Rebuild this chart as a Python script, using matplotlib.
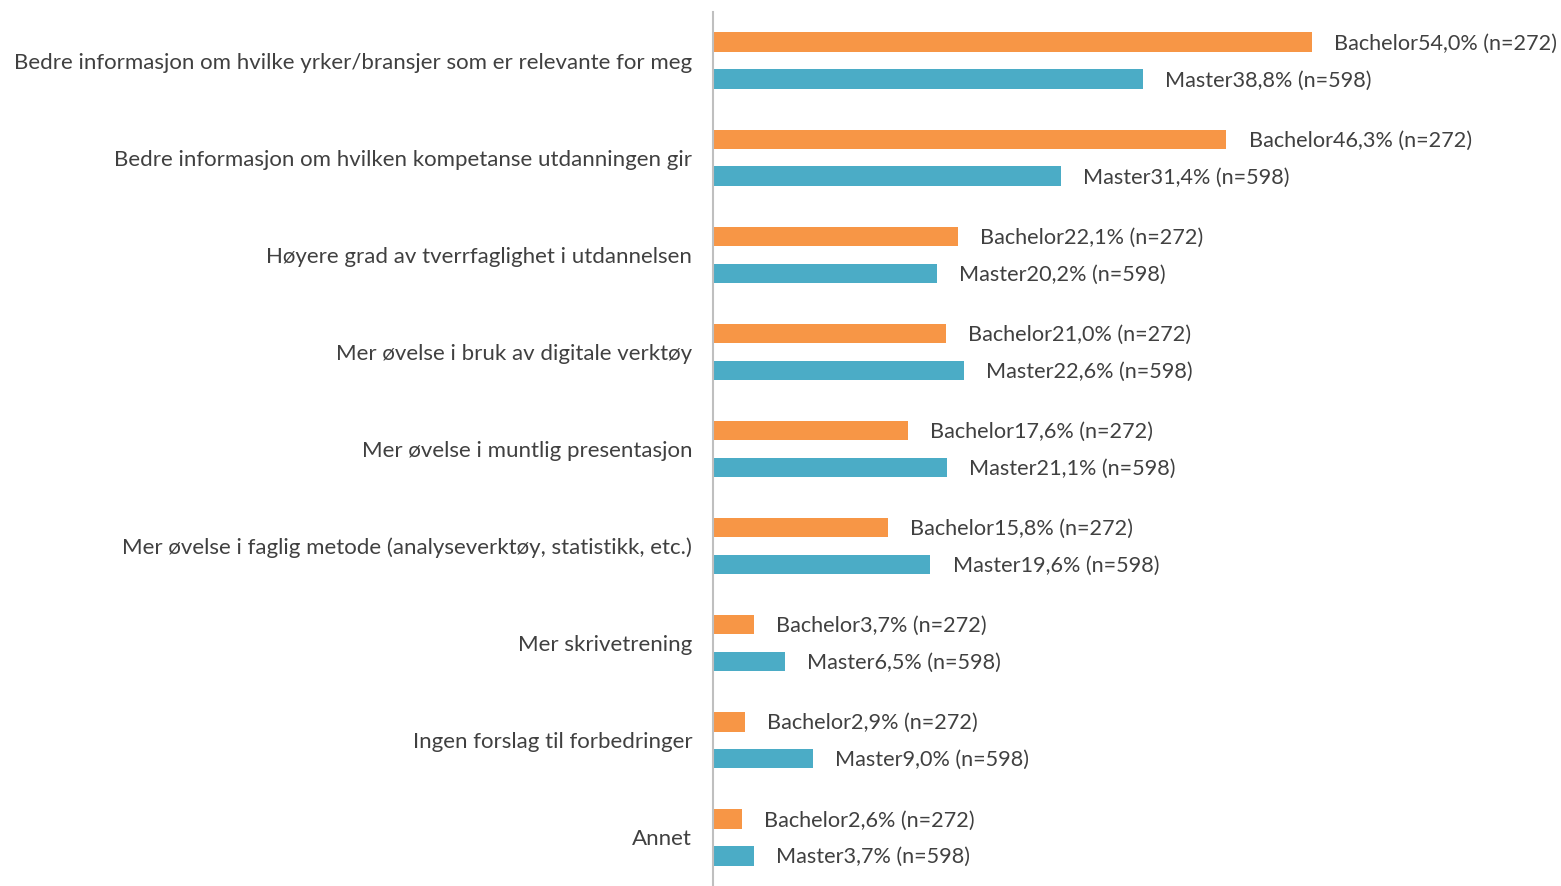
import matplotlib
matplotlib.use("Agg")
import matplotlib.pyplot as plt
import numpy as np

categories = [
    "Bedre informasjon om hvilke yrker/bransjer som er relevante for meg",
    "Bedre informasjon om hvilken kompetanse utdanningen gir",
    "Høyere grad av tverrfaglighet i utdannelsen",
    "Mer øvelse i bruk av digitale verktøy",
    "Mer øvelse i muntlig presentasjon",
    "Mer øvelse i faglig metode (analyseverktøy, statistikk, etc.)",
    "Mer skrivetrening",
    "Ingen forslag til forbedringer",
    "Annet",
]
bachelor = [54.0, 46.3, 22.1, 21.0, 17.6, 15.8, 3.7, 2.9, 2.6]
master = [38.8, 31.4, 20.2, 22.6, 21.1, 19.6, 6.5, 9.0, 3.7]
n_bachelor = 272
n_master = 598

plt.rcParams['font.family'] = ['Lato', 'DejaVu Sans']
txt_color = '#404040'
orange = '#F79646'
blue = '#4BACC6'

W, H = 1561, 886
fig = plt.figure(figsize=(W / 100, H / 100), dpi=100)
ax = fig.add_axes([713 / W, 0, 1 - 713 / W, (H - 12) / H])

y = np.arange(len(categories))
off = 0.19
h = 0.2
ax.barh(y - off, bachelor, height=h, color=orange)
ax.barh(y + off, master, height=h, color=blue)

for i in range(len(categories)):
    ax.text(bachelor[i] + 2.0, y[i] - off + 0.015, f"Bachelor{bachelor[i]:.1f}% (n={n_bachelor})".replace('.', ','),
            va='center', ha='left', fontsize=15.6, color=txt_color)
    ax.text(master[i] + 2.0, y[i] + off + 0.015, f"Master{master[i]:.1f}% (n={n_master})".replace('.', ','),
            va='center', ha='left', fontsize=15.6, color=txt_color)

ax.set_xlim(0, (W - 713) / 11.09)
ax.set_ylim(len(categories) - 0.5, -0.5)
ax.set_yticks(y)
ax.set_yticklabels(categories, fontsize=16.0, color=txt_color)
ax.tick_params(axis='y', length=0, pad=15)
ax.set_xticks([])
for s in ['top', 'right', 'bottom']:
    ax.spines[s].set_visible(False)
ax.spines['left'].set_color('#BFBFBF')
ax.spines['left'].set_linewidth(1.5)

fig.savefig('out.png', dpi=100)
